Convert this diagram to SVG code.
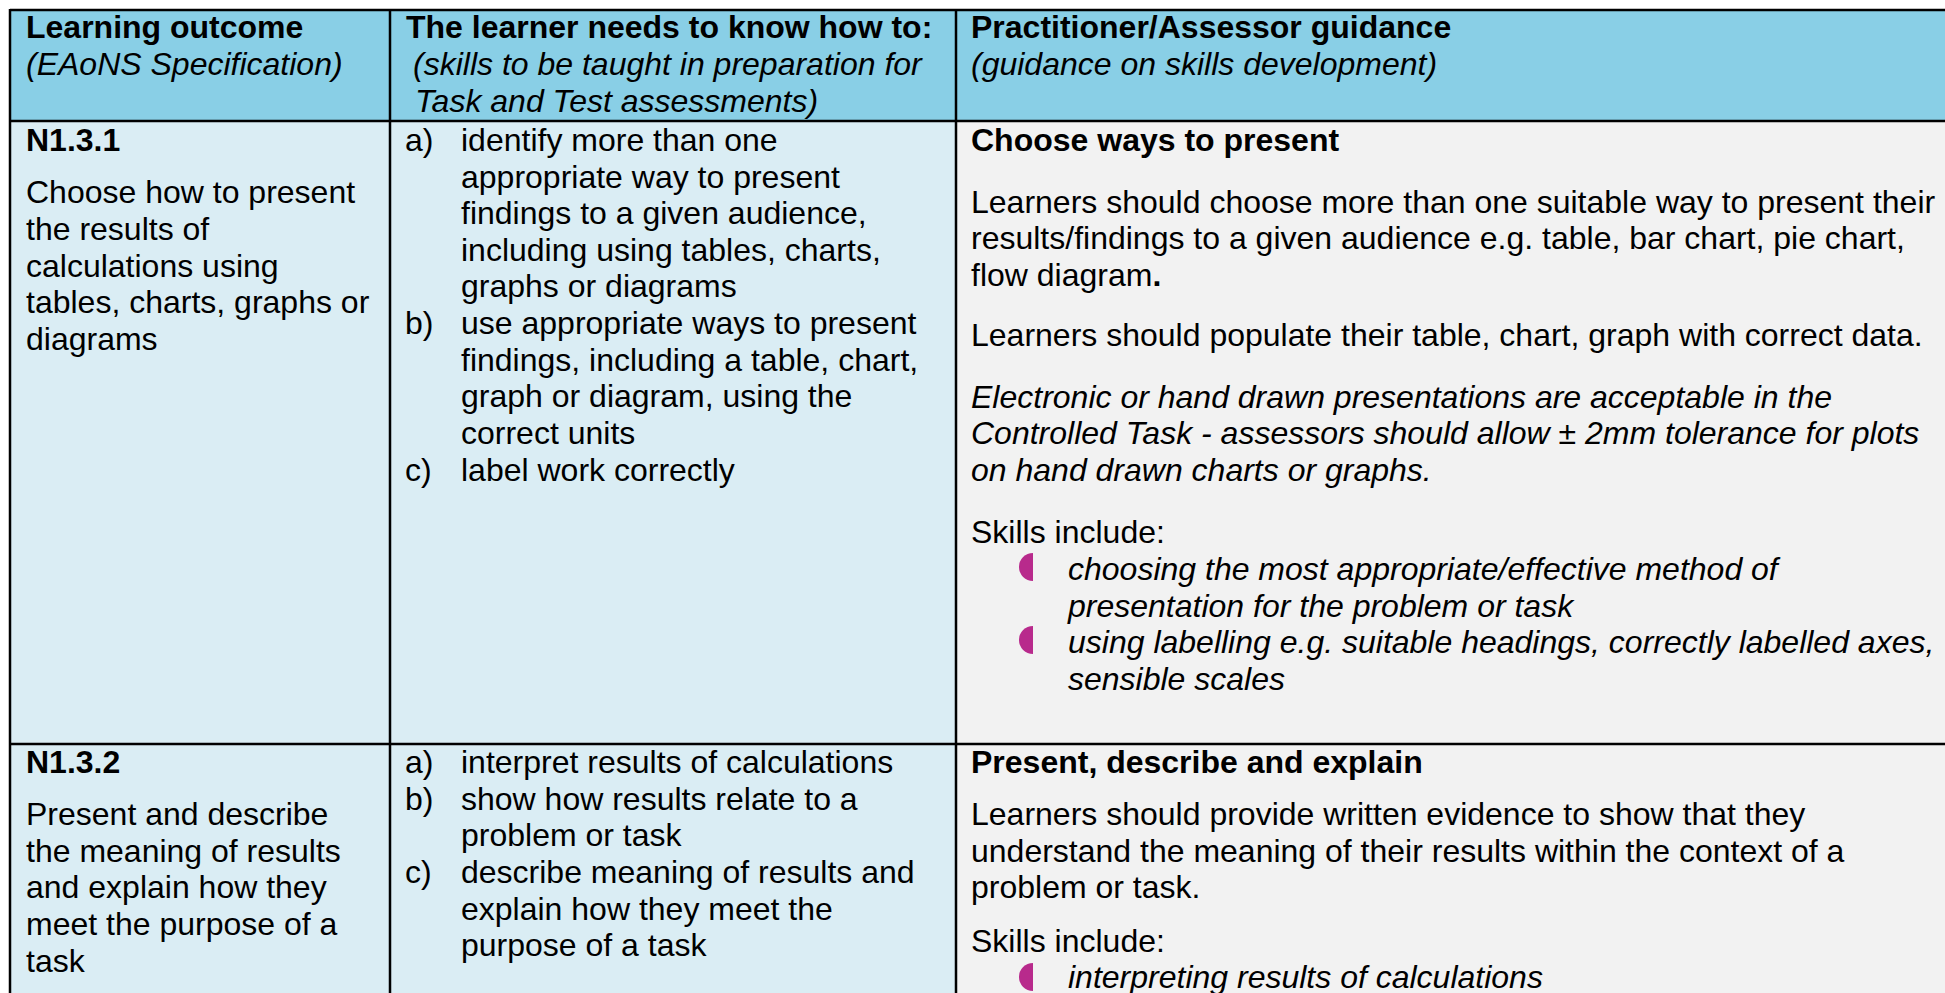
<svg xmlns="http://www.w3.org/2000/svg" width="1945" height="993" viewBox="0 0 1945 993">
<style>
text{font-family:"Liberation Sans",Arial,sans-serif;font-size:32px;fill:#000}
.b{font-weight:bold}
.i{font-style:italic}
.hdr{fill:#89CFE6}
.c1{fill:#DAEDF4}
.c3{fill:#F2F2F2}
.grid{stroke:#000;stroke-width:2.5;fill:none}
.bul{fill:#B82A8C}
</style>
<defs>
<path id="bullet" d="M14,0 A14,14 0 0 0 14,28 Z"/>
</defs>
<rect x="0" y="0" width="1945" height="993" fill="#fff"/>
<g id="backgrounds">
<rect class="hdr" x="10" y="10" width="1935" height="111"/>
<rect class="c1" x="10" y="121" width="946" height="872"/>
<rect class="c3" x="956" y="121" width="989" height="872"/>
</g>
<g id="connectors">
<line class="grid" x1="10" y1="10" x2="1945" y2="10"/>
<line class="grid" x1="10" y1="121" x2="1945" y2="121"/>
<line class="grid" x1="10" y1="744" x2="1945" y2="744"/>
<line class="grid" x1="10" y1="9" x2="10" y2="993"/>
<line class="grid" x1="390" y1="10" x2="390" y2="993"/>
<line class="grid" x1="956" y1="10" x2="956" y2="993"/>
</g>
<g id="header-col1">
<text class="b" x="26" y="38">Learning outcome</text>
<text class="i" x="26" y="75">(EAoNS Specification)</text>
</g>
<g id="header-col2">
<text class="b" x="406" y="38">The learner needs to know how to:</text>
<text class="i" x="413" y="75">(skills to be taught in preparation for</text>
<text class="i" x="415" y="112">Task and Test assessments)</text>
</g>
<g id="header-col3">
<text class="b" x="971" y="38">Practitioner/Assessor guidance</text>
<text class="i" x="971" y="75">(guidance on skills development)</text>
</g>
<g id="row1-outcome">
<text class="b" x="26" y="151">N1.3.1</text>
<text x="26" y="203">Choose how to present</text>
<text x="26" y="240">the results of</text>
<text x="26" y="277">calculations using</text>
<text x="26" y="313">tables, charts, graphs or</text>
<text x="26" y="350">diagrams</text>
</g>
<g id="row1-skills">
<text x="405" y="151">a)</text>
<text x="461" y="151">identify more than one</text>
<text x="461" y="188">appropriate way to present</text>
<text x="461" y="224">findings to a given audience,</text>
<text x="461" y="261">including using tables, charts,</text>
<text x="461" y="297">graphs or diagrams</text>
<text x="405" y="334">b)</text>
<text x="461" y="334">use appropriate ways to present</text>
<text x="461" y="371">findings, including a table, chart,</text>
<text x="461" y="407">graph or diagram, using the</text>
<text x="461" y="444">correct units</text>
<text x="405" y="481">c)</text>
<text x="461" y="481">label work correctly</text>
</g>
<g id="row1-guidance">
<text class="b" x="971" y="151">Choose ways to present</text>
<text x="971" y="213">Learners should choose more than one suitable way to present their</text>
<text x="971" y="249">results/findings to a given audience e.g. table, bar chart, pie chart,</text>
<text x="971" y="286">flow diagram<tspan class="b">.</tspan></text>
<text x="971" y="346">Learners should populate their table, chart, graph with correct data.</text>
<text class="i" x="971" y="408">Electronic or hand drawn presentations are acceptable in the</text>
<text class="i" x="971" y="444">Controlled Task - assessors should allow ± 2mm tolerance for plots</text>
<text class="i" x="971" y="481">on hand drawn charts or graphs.</text>
<text x="971" y="543">Skills include:</text>
<use class="bul" href="#bullet" x="1019" y="553"/>
<text class="i" x="1068" y="580">choosing the most appropriate/effective method of</text>
<text class="i" x="1068" y="617">presentation for the problem or task</text>
<use class="bul" href="#bullet" x="1019" y="626"/>
<text class="i" x="1068" y="653">using labelling e.g. suitable headings, correctly labelled axes,</text>
<text class="i" x="1068" y="690">sensible scales</text>
</g>
<g id="row2-outcome">
<text class="b" x="26" y="773">N1.3.2</text>
<text x="26" y="825">Present and describe</text>
<text x="26" y="862">the meaning of results</text>
<text x="26" y="898">and explain how they</text>
<text x="26" y="935">meet the purpose of a</text>
<text x="26" y="972">task</text>
</g>
<g id="row2-skills">
<text x="405" y="773">a)</text>
<text x="461" y="773">interpret results of calculations</text>
<text x="405" y="810">b)</text>
<text x="461" y="810">show how results relate to a</text>
<text x="461" y="846">problem or task</text>
<text x="405" y="883">c)</text>
<text x="461" y="883">describe meaning of results and</text>
<text x="461" y="920">explain how they meet the</text>
<text x="461" y="956">purpose of a task</text>
</g>
<g id="row2-guidance">
<text class="b" x="971" y="773">Present, describe and explain</text>
<text x="971" y="825">Learners should provide written evidence to show that they</text>
<text x="971" y="862">understand the meaning of their results within the context of a</text>
<text x="971" y="898">problem or task.</text>
<text x="971" y="952">Skills include:</text>
<use class="bul" href="#bullet" x="1019" y="963"/>
<text class="i" x="1068" y="988">interpreting results of calculations</text>
</g>
</svg>
